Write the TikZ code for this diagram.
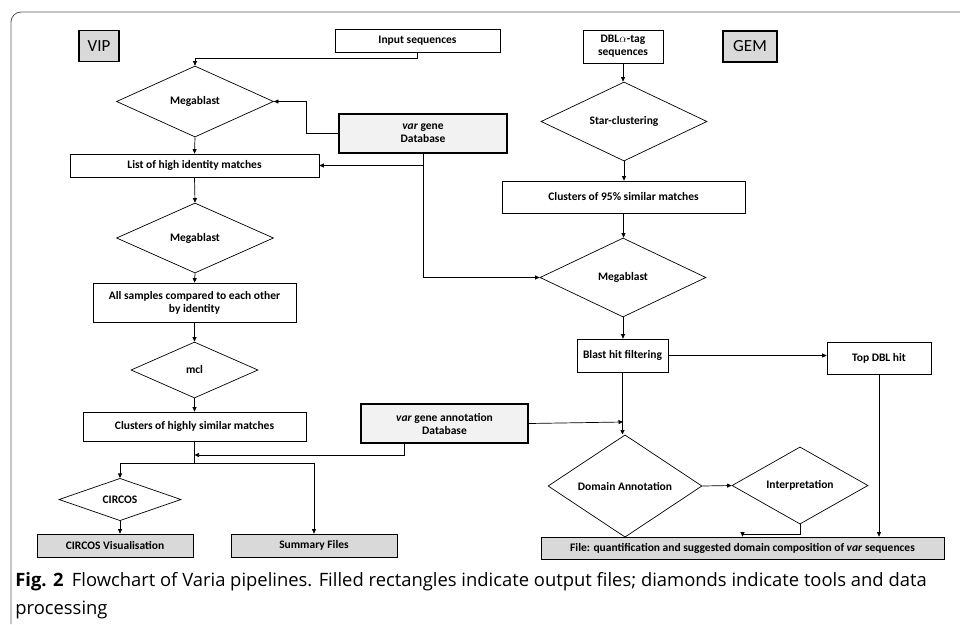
\documentclass[tikz,border=0pt]{standalone}
\usepackage{fontspec}
\setmainfont{Carlito}
\newfontfamily\capfont{Open Sans}
\usetikzlibrary{shapes.geometric,arrows.meta}
\definecolor{boxgray}{RGB}{217,217,217}
\definecolor{dbgray}{RGB}{242,242,242}
\definecolor{framegray}{RGB}{90,90,90}

\begin{document}
\begin{tikzpicture}
[
x=1pt, y=-1pt,
line width=0.7pt,
>={Triangle[length=4.5pt,width=4pt]},
stepbox/.style={draw, rectangle, inner sep=1pt, align=center, font=\bfseries\fontsize{11.5}{13}\selectfont},
outbox/.style={stepbox, fill=boxgray},
dbbox/.style={stepbox, fill=dbgray, line width=2.2pt},
tooldia/.style={draw, diamond, inner sep=0pt, align=center, font=\bfseries\fontsize{11.5}{13}\selectfont},
tagbox/.style={draw, line width=1.3pt, fill=boxgray, inner sep=0pt, font=\fontsize{17}{20}\selectfont},
captext/.style={anchor=base west, inner sep=0pt, font=\capfont\fontsize{18.4}{24}\selectfont}
]
\useasboundingbox (0,0) rectangle (960,624);
\draw[framegray, line width=0.8pt, rounded corners=10pt] (11,624) -- (11,12) -- (960,12);

%Nodes VIP
\node[tagbox, minimum width=40, minimum height=31] at(99,46) (vip) {VIP};
\node[stepbox, minimum width=165, minimum height=23] at(417.5,40.5) (input) {Input sequences};
\node[tooldia, minimum width=157, minimum height=71] at(195,101.5) (mb1) {Megablast};
\node[dbbox, minimum width=168, minimum height=39] at(423,133.5) (vardb) {\textit{var} gene\\Database};
\node[stepbox, minimum width=249, minimum height=23] at(194.5,165.5) (list) {List of high identity matches};
\node[tooldia, minimum width=157, minimum height=70] at(195,238) (mb2) {Megablast};
\node[stepbox, minimum width=203, minimum height=39] at(194.5,302.5) (allsamp) {All samples compared to each other\\by identity};
\node[tooldia, minimum width=127, minimum height=56] at(194.5,370) (mcl) {mcl};
\node[stepbox, minimum width=223, minimum height=29] at(194.5,426.5) (clus) {Clusters of highly similar matches};
\node[tooldia, minimum width=122, minimum height=35] at(120,499.5) (circos) {CIRCOS};
\node[outbox, minimum width=156, minimum height=23] at(115,545.5) (circvis) {CIRCOS Visualisation};
\node[outbox, minimum width=166, minimum height=23] at(314,545.5) (summ) {Summary Files};
\node[dbbox, minimum width=167, minimum height=39] at(444.5,423.5) (anndb) {\textit{var} gene annotation\\Database};

%Nodes GEM
\node[stepbox, minimum width=80, minimum height=33] at(623,46.5) (dbl) {DBL$\alpha$-tag\\sequences};
\node[tagbox, minimum width=54, minimum height=31] at(750,46.5) (gem) {GEM};
\node[tooldia, minimum width=166, minimum height=79] at(624,121.5) (star) {Star-clustering};
\node[stepbox, minimum width=243, minimum height=32] at(623.5,197) (clus95) {Clusters of 95\% similar matches};
\node[tooldia, minimum width=166, minimum height=79] at(623,277.5) (mb3) {Megablast};
\node[stepbox, minimum width=91, minimum height=33] at(622.5,355.5) (blast) {Blast hit filtering};
\node[stepbox, minimum width=104, minimum height=32] at(879,358) (topdbl) {Top DBL hit};
\node[tooldia, minimum width=154, minimum height=80] at(625,486) (domann) {Domain Annotation};
\node[tooldia, minimum width=136, minimum height=65] at(800,485.5) (interp) {Interpretation};
\node[outbox, minimum width=403, minimum height=22] at(742.5,548) (file) {File: quantification and suggested domain composition of \textit{var} sequences};

\coordinate (split) at(194.5,463);
\coordinate (join1) at(194.5,455);
\coordinate (join2) at(623,422);

%Connectors VIP
\draw[->] (input.south) -- ++(0,6) -| (mb1.north);
\draw[->] (vardb.west) -- ++(-32,0) |- (mb1.east);
\draw[->] (vardb.south) |- (list.east);
\draw[->] (vardb.south) |- (mb3.west);
\draw[->] (mb1.south) -- (list.north);
\draw[->] (list.south) -- (mb2.north);
\draw[->] (mb2.south) -- (allsamp.north);
\draw[->] (allsamp.south) -- (mcl.north);
\draw[->] (mcl.south) -- (clus.north);
\draw (clus.south) -- (split);
\draw[->] (split) -| (circos.north);
\draw[->] (split) -| (summ.north);
\draw[->] (circos.south) -- (circos.south |- circvis.north);
\draw[->] ([xshift=-40pt]anndb.south) |- (join1);
\draw[->] (anndb.east) -- (join2);

%Connectors GEM
\draw[->] (dbl.south) -- (dbl.south |- star.north);
\draw[->] (star.south) -- (star.south |- clus95.north);
\draw[->] (clus95.south) -- (clus95.south |- mb3.north);
\draw[->] (mb3.south) -- (mb3.south |- blast.north);
\draw[->] (blast.east) -- (blast.east -| topdbl.west);
\draw[->] (blast.south) -- (blast.south |- domann.north);
\draw[->] (domann.east) -- (interp.west);
\draw[->] (interp.south) -- ++(0,10) -| (file.north);
\draw[->] (topdbl.south) -- (topdbl.south |- file.north);

%Caption
\node[captext] at(15,586) (cap1) {\textbf{Fig. 2}\hspace{0.45em}Flowchart of Varia pipelines. Filled rectangles indicate output files; diamonds indicate tools and data};
\node[captext] at(15,614) (cap2) {processing};
\end{tikzpicture}
\end{document}
